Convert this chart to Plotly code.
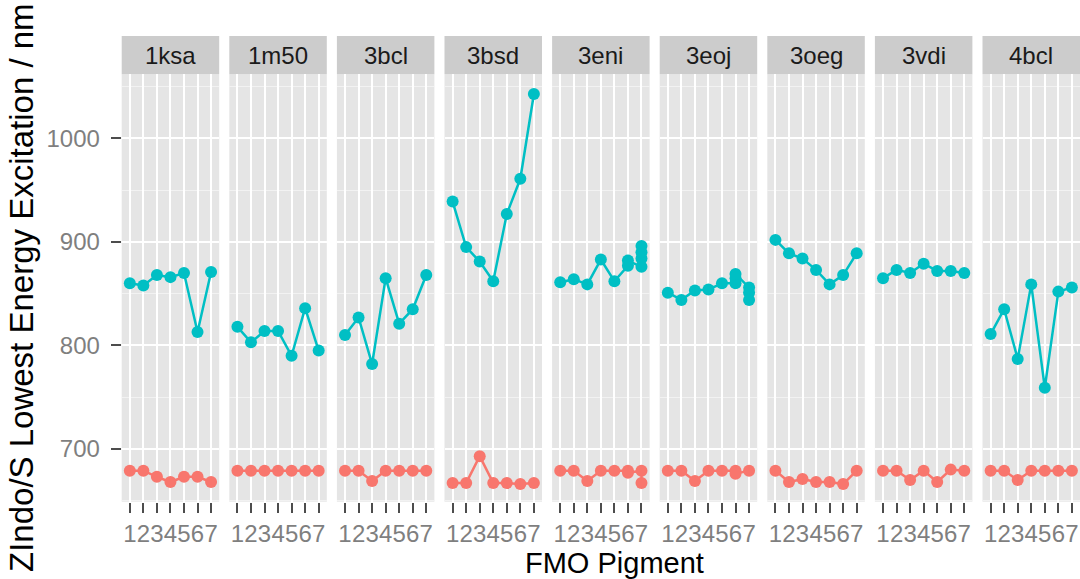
import plotly.graph_objects as go

structures = ["1ksa", "1m50", "3bcl", "3bsd", "3eni", "3eoj", "3oeg", "3vdi", "4bcl"]
pigment_ticks = [1, 2, 3, 4, 5, 6, 7]
y_ticks = [700, 800, 900, 1000]

# Upper (cyan) series: pigment index and excitation wavelength (nm)
high_x = {
    "1ksa": [1, 2, 3, 4, 5, 6, 7],
    "1m50": [1, 2, 3, 4, 5, 6, 7],
    "3bcl": [1, 2, 3, 4, 5, 6, 7],
    "3bsd": [1, 2, 3, 4, 5, 6, 7],
    "3eni": [1, 2, 3, 4, 5, 6, 6, 7, 7, 7, 7],
    "3eoj": [1, 2, 3, 4, 5, 6, 6, 6, 7, 7, 7],
    "3oeg": [1, 2, 3, 4, 5, 6, 7],
    "3vdi": [1, 2, 3, 4, 5, 6, 7],
    "4bcl": [1, 2, 3, 4, 5, 6, 7],
}
high_y = {
    "1ksa": [860, 858, 868, 866, 870, 813, 871],
    "1m50": [818, 803, 814, 814, 790, 836, 795],
    "3bcl": [810, 827, 782, 865, 821, 835, 868],
    "3bsd": [939, 895, 881, 862, 927, 961, 1043],
    "3eni": [861, 864, 859, 883, 862, 877, 882, 876, 884, 890, 896],
    "3eoj": [851, 844, 853, 854, 860, 860, 865, 869, 856, 851, 844],
    "3oeg": [902, 889, 884, 873, 859, 868, 889],
    "3vdi": [865, 873, 870, 879, 872, 872, 870],
    "4bcl": [811, 835, 787, 859, 759, 852, 856],
}

# Lower (red) series
low_x = {
    "1ksa": [1, 2, 3, 4, 5, 6, 7],
    "1m50": [1, 2, 3, 4, 5, 6, 7],
    "3bcl": [1, 2, 3, 4, 5, 6, 7],
    "3bsd": [1, 2, 3, 4, 5, 6, 7],
    "3eni": [1, 2, 3, 4, 5, 6, 6, 7, 7],
    "3eoj": [1, 2, 3, 4, 5, 6, 6, 7],
    "3oeg": [1, 2, 3, 4, 5, 6, 7],
    "3vdi": [1, 2, 3, 4, 5, 6, 7],
    "4bcl": [1, 2, 3, 4, 5, 6, 7],
}
low_y = {
    "1ksa": [679, 679, 673, 668, 673, 673, 668],
    "1m50": [679, 679, 679, 679, 679, 679, 679],
    "3bcl": [679, 679, 669, 679, 679, 679, 679],
    "3bsd": [667, 667, 693, 667, 667, 666, 667],
    "3eni": [679, 679, 669, 679, 679, 679, 677, 679, 667],
    "3eoj": [679, 679, 669, 679, 679, 679, 676, 679],
    "3oeg": [679, 668, 671, 668, 668, 666, 679],
    "3vdi": [679, 679, 670, 679, 668, 680, 679],
    "4bcl": [679, 679, 670, 679, 679, 679, 679],
}

W, H = 1080, 579
FONT = "Liberation Sans, Arial, sans-serif"
CYAN = "#00BFC4"
RED = "#F8766D"

panel_left = 121.7
panel_w = 97.5
panel_step = 107.6
panel_top = 74.3
panel_bottom = 501.7
strip_top = 36.0

fig = go.Figure()
layout = dict(
    width=W, height=H,
    margin=dict(l=0, r=0, t=0, b=0),
    paper_bgcolor="white", plot_bgcolor="#E5E5E5",
    showlegend=False,
    shapes=[], annotations=[],
)

ydom = [1 - panel_bottom / H, 1 - panel_top / H]
for i, s in enumerate(structures):
    k = "" if i == 0 else str(i + 1)
    x0 = (panel_left + i * panel_step) / W
    x1 = min(1.0, (panel_left + i * panel_step + panel_w) / W)
    layout["xaxis" + k] = dict(
        domain=[x0, x1], range=[0.4, 7.6], anchor="y" + k,
        tickmode="array", tickvals=pigment_ticks, ticktext=[str(t) for t in pigment_ticks],
        showgrid=True, gridcolor="white", gridwidth=2.2,
        zeroline=False, showline=False,
        ticks="outside", ticklen=10, tickwidth=1.5, tickcolor="#4D4D4D",
        tickangle=0, tickfont=dict(family=FONT, size=24, color="#7F7F7F"),
        fixedrange=True,
    )
    layout["yaxis" + k] = dict(
        domain=ydom, range=[649, 1062], anchor="x" + k,
        tickmode="array", tickvals=y_ticks,
        showgrid=True, gridcolor="white", gridwidth=2.2,
        minor=dict(tickmode="array", tickvals=[650, 750, 850, 950, 1050],
                   showgrid=True, gridcolor="#F2F2F2", gridwidth=1.1, ticks=""),
        zeroline=False, showline=False,
        showticklabels=(i == 0),
        ticks="outside" if i == 0 else "", ticklen=10, tickwidth=1.5, tickcolor="#4D4D4D",
        ticklabelstandoff=6,
        tickfont=dict(family=FONT, size=24, color="#7F7F7F"),
        fixedrange=True,
    )
    # strip
    layout["shapes"].append(dict(
        type="rect", xref="paper", yref="paper",
        x0=x0, x1=x1, y0=1 - panel_top / H, y1=1 - strip_top / H,
        fillcolor="#CCCCCC", line=dict(width=0), layer="below",
    ))
    layout["annotations"].append(dict(
        text=s, xref="paper", yref="paper", showarrow=False,
        x=(x0 + x1) / 2, y=1 - (strip_top + panel_top) / 2 / H,
        xanchor="center", yanchor="middle",
        font=dict(family=FONT, size=24, color="#1A1A1A"),
    ))
    xa = "x" + k
    ya = "y" + k
    fig.add_trace(go.Scatter(
        x=low_x[s], y=low_y[s], mode="lines+markers", xaxis=xa, yaxis=ya,
        line=dict(color=RED, width=2.5), marker=dict(color=RED, size=12),
        hoverinfo="skip",
    ))
    fig.add_trace(go.Scatter(
        x=high_x[s], y=high_y[s], mode="lines+markers", xaxis=xa, yaxis=ya,
        line=dict(color=CYAN, width=2.5), marker=dict(color=CYAN, size=12),
        hoverinfo="skip",
    ))

layout["annotations"].append(dict(
    text="FMO Pigment", xref="paper", yref="paper", showarrow=False,
    x=614 / W, y=1 - 563 / H, xanchor="center", yanchor="middle",
    font=dict(family=FONT, size=29, color="black"),
))
layout["annotations"].append(dict(
    text="ZIndo/S Lowest Energy Excitation / nm", xref="paper", yref="paper",
    showarrow=False, textangle=-90,
    x=21 / W, y=1 - 288 / H, xanchor="center", yanchor="middle",
    font=dict(family=FONT, size=33, color="black"),
))

fig.update_layout(**layout)
fig.write_html("out.html")
